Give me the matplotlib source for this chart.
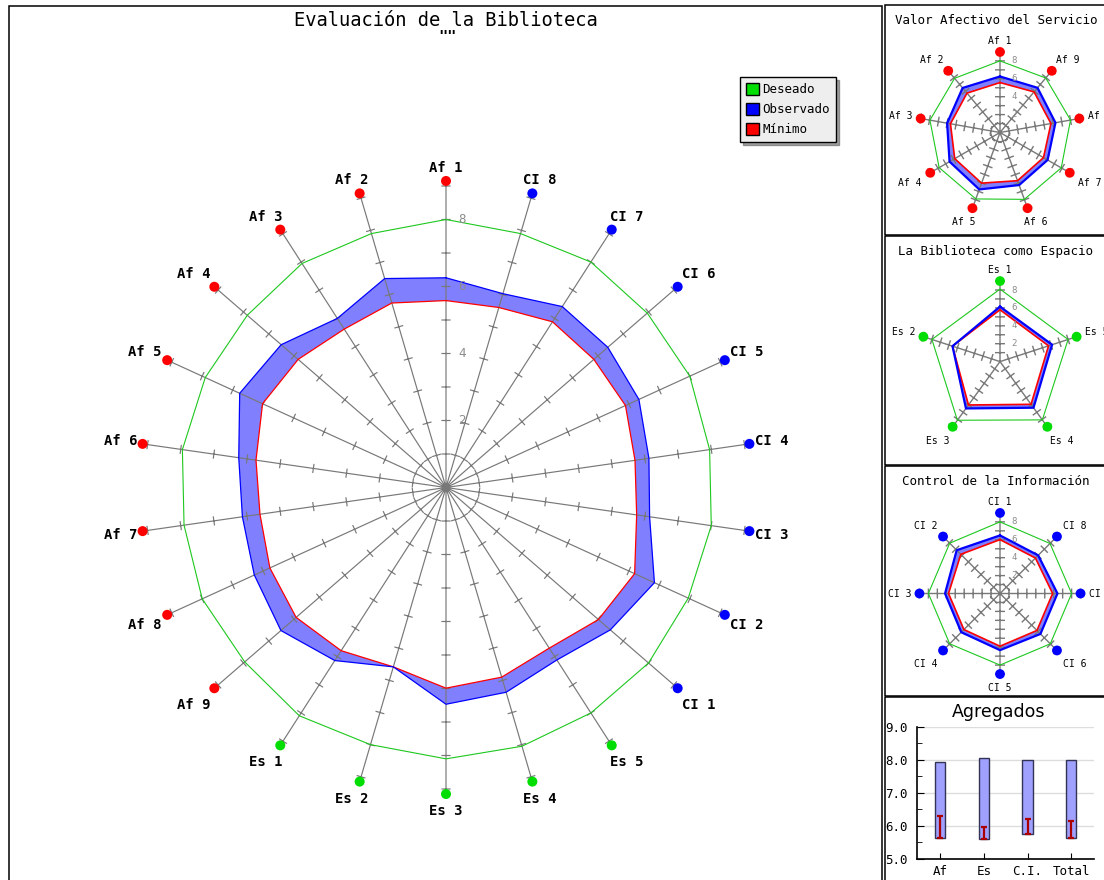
import numpy as np
import matplotlib
matplotlib.use("Agg")
import matplotlib.pyplot as plt
from matplotlib.patches import Patch, Rectangle
from matplotlib.ticker import MultipleLocator, FormatStrFormatter

W, H = 1104, 880
MONO = "DejaVu Sans Mono"

# ---------------- data ----------------
af_labels = ["Af 1", "Af 2", "Af 3", "Af 4", "Af 5", "Af 6", "Af 7", "Af 8", "Af 9"]
es_labels = ["Es 1", "Es 2", "Es 3", "Es 4", "Es 5"]
ci_labels = ["CI 1", "CI 2", "CI 3", "CI 4", "CI 5", "CI 6", "CI 7", "CI 8"]

af_deseado = [8.0, 7.9, 7.95, 7.85, 7.9, 7.95, 7.9, 8.0, 7.95]
af_observado = [6.26, 6.50, 6.00, 6.51, 6.77, 6.25, 6.14, 6.29, 6.52]
af_minimo = [5.58, 5.74, 5.62, 5.84, 6.02, 5.73, 5.61, 5.78, 5.92]

es_deseado = [8.1, 8.0, 8.1, 8.05, 8.0]
es_observado = [6.14, 5.58, 6.47, 6.37, 6.12]
es_minimo = [5.79, 5.58, 5.99, 5.90, 5.70]

ci_deseado = [8.0, 7.95, 8.0, 7.95, 8.0, 7.95, 8.0, 7.9]
ci_observado = [6.49, 6.84, 6.14, 6.12, 6.33, 6.39, 6.42, 6.03]
ci_minimo = [6.02, 6.19, 5.75, 5.70, 5.89, 5.84, 5.88, 5.60]

agg_labels = ["Af", "Es", "C.I.", "Total"]
agg_deseado = [7.94, 8.06, 7.98, 7.98]
agg_minimo = [5.645, 5.60, 5.75, 5.645]
agg_observado = [6.31, 5.96, 6.20, 6.15]

radial_labels = [2, 4, 6, 8]
radial_ticks = [1, 2, 3, 4, 5, 6, 7, 8, 9]

# ---------------- styles ----------------
C_DES = "#1ec81e"
C_OBS = "#0000ff"
C_FILL = "#8080ff"
C_MIN = "#ff0000"
C_AXIS = "#787878"
C_AF, C_ES, C_CI = "#ff0000", "#00dd00", "#0000ff"

fig = plt.figure(figsize=(W / 100, H / 100), dpi=100)


def polar_axes(cx, cy, radius):
    return fig.add_axes([(cx - radius) / W, (H - cy - radius) / H,
                         2 * radius / W, 2 * radius / H], projection="polar")


def close(v):
    v = list(v)
    return np.array(v + v[:1])


def draw_radar(ax, labels, mcolors, des, obs, mn, scale, tick_half, r_mark,
               msize, lab_fs, lab_weight, off_x, off_up, off_dn, rad_fs,
               rad_off, lw_des, lw_obs, lw_min, lw_axis):
    n = len(labels)
    theta = 2 * np.pi * np.arange(n) / n
    ax.set_theta_offset(np.pi / 2)
    ax.set_theta_direction(1)
    ax.set_ylim(0, 10)
    ax.axis("off")
    tc = close(theta)
    ax.fill(tc, close(obs), color=C_FILL, lw=0, zorder=1)
    ax.fill(tc, close(mn), color="white", lw=0, zorder=2)
    tt, rr = [], []
    for t in theta:
        tt += [t, t, np.nan]
        rr += [0, r_mark, np.nan]
        for r in radial_ticks:
            d = tick_half / scale
            a = np.arctan2(d, r)
            R = np.hypot(r, d)
            tt += [t - a, t + a, np.nan]
            rr += [R, R, np.nan]
    ax.plot(tt, rr, color=C_AXIS, lw=lw_axis, zorder=3)
    ax.plot(tc, close(des), color=C_DES, lw=lw_des, zorder=4)
    ax.plot(tc, close(mn), color=C_MIN, lw=lw_min, zorder=5)
    ax.plot(tc, close(obs), color=C_OBS, lw=lw_obs, zorder=6)
    ax.scatter(theta, [r_mark] * n, s=msize, c=mcolors, zorder=7,
               clip_on=False, linewidths=0)
    for t, lab in zip(theta, labels):
        ang = t + np.pi / 2
        c, s = np.cos(ang), np.sin(ang)
        dx = off_x * np.clip(c * 1.25, -1, 1)
        if s >= 0:
            dy = off_up * np.clip(s * 1.5, 0, 1)
        else:
            dy = -off_dn * np.clip(-s * 1.5, 0, 1)
        ax.annotate(lab, (t, r_mark), xytext=(dx * 0.72, dy * 0.72),
                    textcoords="offset points", ha="center", va="center",
                    fontsize=lab_fs, fontweight=lab_weight, family=MONO,
                    annotation_clip=False, zorder=8)
    for v in radial_labels:
        ax.annotate(str(v), (0, v), xytext=(rad_off * 0.72, 0),
                    textcoords="offset points", ha="center", va="center",
                    fontsize=rad_fs, color="#8c8c8c", family=MONO, zorder=8)


# ---------------- main radar ----------------
main_labels = af_labels + es_labels + ci_labels
main_colors = [C_AF] * len(af_labels) + [C_ES] * len(es_labels) + [C_CI] * len(ci_labels)
scale_main = 33.5
axm = polar_axes(446, 487.5, 10 * scale_main)
draw_radar(axm, main_labels, main_colors,
           af_deseado + es_deseado + ci_deseado,
           af_observado + es_observado + ci_observado,
           af_minimo + es_minimo + ci_minimo,
           scale=scale_main, tick_half=4.0, r_mark=9.15, msize=52,
           lab_fs=10, lab_weight="bold", off_x=22, off_up=13, off_dn=17,
           rad_fs=9, rad_off=16, lw_des=0.8, lw_obs=0.9, lw_min=0.9,
           lw_axis=0.85)

fig.text(446 / W, 1 - 20 / H, "Evaluación de la Biblioteca", ha="center",
         va="center", fontsize=13.5, family=MONO)
fig.text(447 / W, 1 - 37 / H, '""', ha="center", va="center", fontsize=11,
         family=MONO, fontweight="bold")

handles = [Patch(facecolor="#00dd00", edgecolor="black", label="Deseado"),
           Patch(facecolor="#0000ff", edgecolor="black", label="Observado"),
           Patch(facecolor="#ff0000", edgecolor="black", label="Mínimo")]
fig.legend(handles=handles, loc="upper left",
           bbox_to_anchor=(740 / W, 1 - 77 / H), borderaxespad=0,
           prop={"family": MONO, "size": 9}, frameon=True, fancybox=False,
           shadow=True, facecolor="#eeeeee", edgecolor="black", framealpha=1,
           handlelength=1.05, handleheight=1.05, handletextpad=0.25,
           borderpad=0.5, labelspacing=0.55)

# ---------------- small radars ----------------
scale_small = 8.95
small = [
    ("Valor Afectivo del Servicio", 20, 132.5, af_labels, C_AF, af_deseado, af_observado, af_minimo),
    ("La Biblioteca como Espacio", 251, 361.6, es_labels, C_ES, es_deseado, es_observado, es_minimo),
    ("Control de la Información", 481, 593.5, ci_labels, C_CI, ci_deseado, ci_observado, ci_minimo),
]
for title, ty, cy, labs, col, d, o, m in small:
    axs = polar_axes(1000, cy, 10 * scale_small)
    draw_radar(axs, labs, [col] * len(labs), d, o, m, scale=scale_small,
               tick_half=4.3, r_mark=9.0, msize=50, lab_fs=7,
               lab_weight="normal", off_x=20, off_up=11, off_dn=14,
               rad_fs=6.5, rad_off=14, lw_des=0.8, lw_obs=1.6, lw_min=1.2,
               lw_axis=1.0)
    fig.text(996 / W, 1 - ty / H, title, ha="center", va="center",
             fontsize=9, family=MONO)

# ---------------- aggregated bars ----------------
bx = fig.add_axes([917.3 / W, (H - 859) / H, (1094 - 917.3) / W, (859 - 726.7) / H])
xpos = np.arange(len(agg_labels))
des_a = np.array(agg_deseado)
min_a = np.array(agg_minimo)
obs_a = np.array(agg_observado)
bx.bar(xpos, des_a - min_a, bottom=min_a, width=0.23, color="#a0a0ff",
       edgecolor="#333355", linewidth=1, zorder=3)
bx.errorbar(xpos, (obs_a + min_a) / 2, yerr=(obs_a - min_a) / 2, fmt="none",
            ecolor="#aa0000", elinewidth=1.6, capsize=2.5, capthick=1.6,
            zorder=4)
bx.set_xlim(-0.52, 3.52)
bx.set_ylim(5, 9)
bx.set_xticks(xpos)
bx.set_xticklabels(agg_labels, family=MONO, fontsize=9)
bx.yaxis.set_major_locator(MultipleLocator(1))
bx.yaxis.set_minor_locator(MultipleLocator(0.5))
bx.yaxis.set_major_formatter(FormatStrFormatter("%.1f"))
for lab in bx.get_yticklabels():
    lab.set_family(MONO)
    lab.set_fontsize(9)
bx.grid(axis="y", which="major", color="#dddddd", lw=1)
bx.set_axisbelow(True)
bx.spines["top"].set_visible(False)
bx.spines["right"].set_visible(False)
bx.spines["left"].set_linewidth(1.2)
bx.spines["bottom"].set_linewidth(1.2)
bx.tick_params(axis="y", which="major", direction="in", length=5, pad=7)
bx.tick_params(axis="y", which="minor", direction="in", length=3.5)
bx.tick_params(axis="x", direction="in", length=4, pad=4)
fig.text(999 / W, 1 - 712 / H, "Agregados", ha="center", va="center",
         fontsize=12.5, family="DejaVu Sans")

# ---------------- panel borders ----------------
def frame(x0, y0, x1, y1):
    fig.add_artist(Rectangle((x0 / W, 1 - y1 / H), (x1 - x0) / W, (y1 - y0) / H,
                             transform=fig.transFigure, fill=False,
                             edgecolor="black", linewidth=1.1, zorder=20))

frame(8.5, 5.5, 881.5, 890)
frame(884.5, 5.5, 1110, 235.5)
frame(884.5, 236.5, 1110, 465.5)
frame(884.5, 466.5, 1110, 695.5)
frame(884.5, 696.5, 1110, 890)

fig.savefig("out.png", dpi=100)
